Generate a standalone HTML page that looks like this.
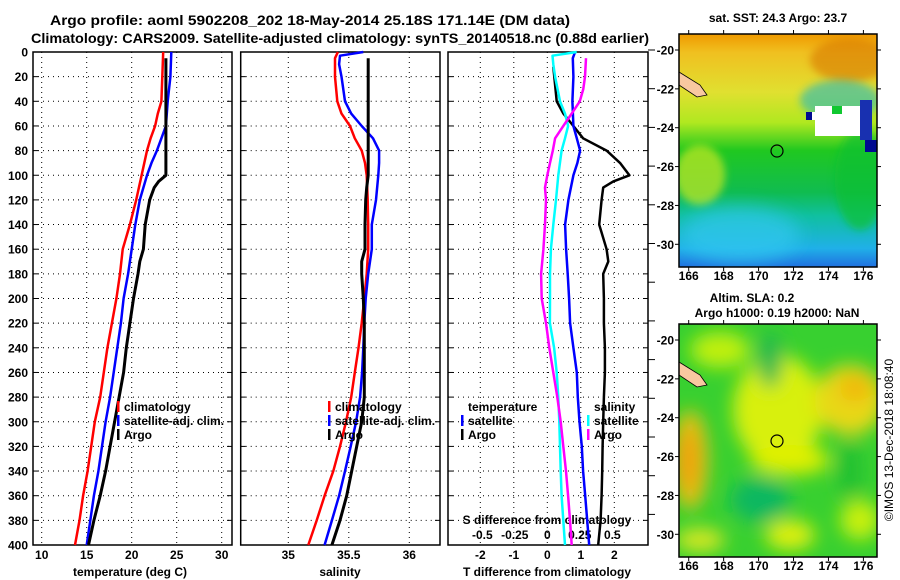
<!DOCTYPE html>
<html><head><meta charset="utf-8"><style>
body{margin:0;background:#fff;}
svg{display:block;font-family:"Liberation Sans",sans-serif;font-weight:bold;}
</style></head><body>
<svg id="fig" width="900" height="580" viewBox="0 0 900 580" xmlns="http://www.w3.org/2000/svg">
<defs>
<filter id="blur6" x="-50%" y="-50%" width="200%" height="200%"><feGaussianBlur stdDeviation="9"/></filter>
<filter id="blur3" x="-50%" y="-50%" width="200%" height="200%"><feGaussianBlur stdDeviation="4"/></filter>
<clipPath id="clipTop"><rect x="679" y="34" width="198" height="233"/></clipPath>
<clipPath id="clipBot"><rect x="679" y="324" width="198" height="233"/></clipPath>
<linearGradient id="sstGrad" x1="0" y1="0" x2="0" y2="1">
<stop offset="0" stop-color="#f09a00"/><stop offset="0.08" stop-color="#f0c020"/>
<stop offset="0.25" stop-color="#e0e030"/><stop offset="0.38" stop-color="#b0e820"/>
<stop offset="0.5" stop-color="#20c820"/><stop offset="0.68" stop-color="#10bc50"/>
<stop offset="0.78" stop-color="#10c0a0"/><stop offset="0.92" stop-color="#20b0e8"/>
<stop offset="1" stop-color="#2070e0"/></linearGradient>
</defs>
<g font-size="14" text-anchor="middle">
<text x="310" y="25" textLength="520" lengthAdjust="spacingAndGlyphs">Argo profile: aoml 5902208_202 18-May-2014 25.18S 171.14E (DM data)</text>
<text x="340" y="43" textLength="618" lengthAdjust="spacingAndGlyphs">Climatology: CARS2009. Satellite-adjusted climatology: synTS_20140518.nc (0.88d earlier)</text>
</g>
<g id="plots"></g>
<g id="maps">
<g clip-path="url(#clipTop)">
<rect x="679" y="34" width="198" height="233" fill="url(#sstGrad)"/>
<ellipse cx="850" cy="60" rx="40" ry="22" fill="#d87800" opacity="0.6" filter="url(#blur3)"/>
<ellipse cx="700" cy="175" rx="25" ry="30" fill="#c8e820" opacity="0.7" filter="url(#blur3)"/>
<ellipse cx="740" cy="235" rx="60" ry="28" fill="#30c8f0" opacity="0.7" filter="url(#blur6)"/>
<ellipse cx="860" cy="180" rx="25" ry="50" fill="#10c030" opacity="0.7" filter="url(#blur3)"/>
<ellipse cx="840" cy="100" rx="40" ry="20" fill="#20b8c0" opacity="0.6" filter="url(#blur3)"/>
<rect x="815" y="106" width="50" height="30" fill="#fff"/>
<rect x="810" y="112" width="12" height="8" fill="#fff"/>
<rect x="860" y="100" width="12" height="40" fill="#1830b0"/>
<rect x="865" y="140" width="12" height="12" fill="#000a90"/>
<rect x="806" y="112" width="6" height="8" fill="#000a90"/>
<rect x="832" y="106" width="10" height="8" fill="#10c830"/>
<path d="M679 72 L700 85 L707 95 L697 97 L679 85 Z" fill="#f8c8a0" stroke="#000" stroke-width="0.8"/>
<circle cx="777" cy="151" r="6" fill="none" stroke="#000" stroke-width="1.2"/>
</g>
<rect x="679" y="34" width="198" height="233" fill="none" stroke="#000" stroke-width="1.5"/>
<g clip-path="url(#clipBot)">
<rect x="679" y="324" width="198" height="233" fill="#38d030"/>
<g filter="url(#blur6)">
<ellipse cx="778" cy="410" rx="45" ry="55" fill="#d8f010"/>
<ellipse cx="790" cy="460" rx="40" ry="15" fill="#e0f000"/>
<ellipse cx="850" cy="400" rx="35" ry="35" fill="#e8d818"/>
<ellipse cx="855" cy="388" rx="16" ry="14" fill="#f0b810"/>
<ellipse cx="690" cy="460" rx="18" ry="50" fill="#e8c018"/>
<ellipse cx="688" cy="460" rx="10" ry="30" fill="#f0a010"/>
<ellipse cx="720" cy="350" rx="30" ry="18" fill="#c0f010"/>
<ellipse cx="790" cy="535" rx="25" ry="15" fill="#e0f010"/>
<ellipse cx="860" cy="520" rx="20" ry="20" fill="#c8f010"/>
<ellipse cx="700" cy="540" rx="25" ry="12" fill="#d8e820"/>
<ellipse cx="760" cy="500" rx="30" ry="22" fill="#10b860"/>
<ellipse cx="770" cy="360" rx="12" ry="28" fill="#20b850"/>
<ellipse cx="850" cy="470" rx="12" ry="30" fill="#20c030"/>
</g>
<path d="M679 362 L700 375 L707 385 L697 387 L679 375 Z" fill="#f8c8a0" stroke="#000" stroke-width="0.8"/>
<circle cx="777" cy="441" r="6" fill="none" stroke="#000" stroke-width="1.2"/>
</g>
<rect x="679" y="324" width="198" height="233" fill="none" stroke="#000" stroke-width="1.5"/>
<text x="778" y="22" font-size="12" text-anchor="middle">sat. SST: 24.3 Argo: 23.7</text>
<text x="752" y="302" font-size="12" text-anchor="middle">Altim. SLA: 0.2</text>
<text x="777" y="317" font-size="12" text-anchor="middle">Argo h1000: 0.19 h2000: NaN</text>
<text transform="translate(893,440) rotate(-90)" font-size="12" font-weight="normal" text-anchor="middle">©IMOS 13-Dec-2018 18:08:40</text>
<g id="mapaxes"></g>
</g>
</svg>
<script>
// depth levels (m)
const depthsT = [0,20,40,50,60,70,80,100,120,140,160,180,200,220,240,260,280,300,320,340,360,380,400];
const tempClim = [23.5,23.4,23.3,22.9,22.6,22.1,21.7,21.1,20.5,19.8,19.0,18.7,18.3,17.8,17.3,16.9,16.5,15.9,15.5,15.1,14.6,14.2,13.7];
const depthsB = [0,20,40,60,70,80,90,100,120,140,160,180,200,220,240,260,280,300,320,340,360,380,400];
const tempSat = [24.4,24.3,24.0,23.8,23.3,22.8,22.2,21.7,20.9,20.4,20.0,19.6,19.1,18.8,18.4,18.0,17.6,17.1,16.7,16.3,15.8,15.4,15.0];
const depthsArgo = [5,100,105,110,120,140,160,170,180,200,220,240,260,280,300,320,340,360,380,400];
const tempArgo = [23.8,23.8,23.0,22.5,22.0,21.5,21.3,20.9,20.7,20.2,19.8,19.4,19.1,18.6,18.1,17.6,17.1,16.5,15.8,15.2];
const depthsSC = [0,5,20,40,50,60,70,80,90,100,120,140,160,180,200,220,240,260,280,300,320,340,360,380,400];
const salClim = [35.41,35.386,35.386,35.405,35.44,35.51,35.55,35.607,35.634,35.648,35.656,35.66,35.66,35.648,35.628,35.607,35.58,35.55,35.52,35.477,35.427,35.372,35.30,35.235,35.165];
const depthsSS = [0,3,10,20,40,50,60,70,80,90,100,120,140,160,180,200,220,240,260,280,300,320,340,360,380,400];
const salSat = [35.62,35.427,35.42,35.44,35.469,35.52,35.607,35.70,35.75,35.75,35.744,35.725,35.69,35.69,35.66,35.64,35.628,35.62,35.61,35.593,35.56,35.516,35.469,35.42,35.36,35.30];
const depthsSA = [5,100,110,120,140,160,170,180,200,220,240,260,280,300,320,340,360,380,400];
const salArgo = [35.66,35.66,35.648,35.64,35.634,35.634,35.607,35.607,35.62,35.628,35.628,35.628,35.628,35.607,35.565,35.524,35.483,35.427,35.36];
const depthsTDA = [12,40,50,60,70,80,90,100,105,110,120,140,160,170,180,200,220,240,260,280,300,320,340,360,380,400];
const tDiffArgo = [0.18,0.28,0.48,0.78,1.07,1.77,2.17,2.45,1.97,1.67,1.62,1.55,1.77,1.82,1.67,1.69,1.69,1.72,1.72,1.69,1.67,1.65,1.64,1.62,1.59,1.52];
const depthsTDS = [0,5,20,40,60,70,80,90,100,120,140,160,180,200,220,240,260,280,300,320,340,360,380,400];
const tDiffSat = [0.83,0.76,0.78,0.75,0.78,0.88,0.98,0.9,0.78,0.63,0.53,0.56,0.61,0.65,0.68,0.78,0.88,0.91,0.96,1.03,1.07,1.13,1.19,1.25];
const depthsSDS = [0,3,10,20,40,50,60,70,80,100,120,140,160,180,200,220,240,260,280,300,320,340,360,380,400];
const sDiffSat = [0.226,0.04,0.046,0.06,0.098,0.136,0.16,0.136,0.11,0.085,0.067,0.046,0.028,0.021,0.021,0.02,0.052,0.072,0.085,0.092,0.098,0.103,0.11,0.123,0.136];
const depthsSDA = [5,20,30,40,50,60,70,80,90,100,110,120,140,160,180,200,220,240,260,280,300,320,340,360,380,400];
const sDiffArgo = [0.298,0.29,0.277,0.25,0.188,0.123,0.06,0.042,0.021,0,-0.018,-0.01,-0.018,-0.03,-0.048,-0.043,-0.01,0.015,0.046,0.077,0.103,0.123,0.144,0.16,0.175,0.188];
const depthTicks = [0,20,40,60,80,100,120,140,160,180,200,220,240,260,280,300,320,340,360,380,400];
const tempTicks = [10,15,20,25,30];
const salTicks = [35,35.5,36];
const tDiffTicks = [-2,-1,0,1,2];
const sDiffTickLabels = ["-0.5","-0.25","0","0.25","0.5"];
const sDiffTicks = [-0.5,-0.25,0,0.25,0.5];
const lonTicks = [166,168,170,172,174,176];
const latTicks = [-20,-22,-24,-26,-28,-30];

const NS = "http://www.w3.org/2000/svg";
const yS = d => 52 + d * 493 / 400;
const xT = t => 41.7 + 9 * (t - 10);
const xS = s => 288.3 + 121 * (s - 35);
const xTD = d => 547.3 + 33.5 * d;
const xSD = d => 547.3 + 130 * d;
const plots = document.getElementById('plots');
function mk(tag, attrs, parent) {
  const e = document.createElementNS(NS, tag);
  for (const k in attrs) e.setAttribute(k, attrs[k]);
  (parent || plots).appendChild(e);
  return e;
}
function line(xs, ds, xf, color, w, name) {
  const pts = xs.map((v, i) => xf(v).toFixed(1) + ',' + yS(ds[i]).toFixed(1)).join(' ');
  const p = mk('polyline', {points: pts, fill: 'none', stroke: color, 'stroke-width': w, 'stroke-linejoin': 'round'});
  
  
}
function panel(x0, x1, vticks, xf, name) {
  const g = mk('g', {});
  
  
  depthTicks.forEach(d => {
    if (d > 0 && d < 400) mk('line', {x1: x0, x2: x1, y1: yS(d), y2: yS(d), stroke: '#000', 'stroke-width': 1, 'stroke-dasharray': '1,4'}, g);
    mk('line', {x1: x0, x2: x0 + 5, y1: yS(d), y2: yS(d), stroke: '#000'}, g);
    mk('line', {x1: x1 - 5, x2: x1, y1: yS(d), y2: yS(d), stroke: '#000'}, g);
  });
  vticks.forEach(v => {
    const x = xf(v);
    mk('line', {x1: x, x2: x, y1: 52, y2: 545, stroke: '#000', 'stroke-width': 1, 'stroke-dasharray': '1,4'}, g);
  });
  mk('rect', {x: x0, y: 52, width: x1 - x0, height: 493, fill: 'none', stroke: '#000', 'stroke-width': 1.5}, g);
}
panel(33, 232, tempTicks, xT, 'temperature-panel');
panel(240.7, 440, salTicks, xS, 'salinity-panel');
panel(448, 648, tDiffTicks, xTD, 'difference-panel');
for (let i = 0; i < 13; i++) {
  const t = mk('line', {x1: 648, x2: 655, y1: 50 + 38.7 * i, y2: 50 + 38.7 * i, stroke: '#000'});
  
  
}
depthTicks.forEach(d => {
  const t = mk('text', {x: 28, y: yS(d) + 4.5, 'font-size': 12, 'text-anchor': 'end'});
  t.textContent = d;
  
  
});
function xlabels(ticks, xf, y, labels, name) {
  ticks.forEach((v, i) => {
    const t = mk('text', {x: xf(v), y: y, 'font-size': 12, 'text-anchor': 'middle'});
    t.textContent = labels ? labels[i] : v;
    
    
  });
}
xlabels(tempTicks, xT, 559, null, 'temperature-tick-label');
xlabels(salTicks, xS, 559, null, 'salinity-tick-label');
xlabels(tDiffTicks, xTD, 559, null, 'tdiff-tick-label');
xlabels(sDiffTicks, xSD, 539, sDiffTickLabels, 'sdiff-tick-label');
function txt(x, y, s, name, anchor, size) {
  const t = mk('text', {x: x, y: y, 'font-size': size || 12, 'text-anchor': anchor || 'start'});
  t.textContent = s;
  
  
}
txt(130, 576, 'temperature (deg C)', 'temperature-axis-title', 'middle');
txt(340, 576, 'salinity', 'salinity-axis-title', 'middle');
txt(547, 576, 'T difference from climatology', 'tdiff-axis-title', 'middle');
txt(547, 524, 'S difference from climatology', 'sdiff-axis-title', 'middle');
line(tempClim, depthsT, xT, '#ff0000', 2.5, 'temp-climatology-line');
line(tempSat, depthsB, xT, '#0000ff', 2.5, 'temp-satellite-line');
line(tempArgo, depthsArgo, xT, '#000', 3, 'temp-argo-line');
line(salClim, depthsSC, xS, '#ff0000', 2.5, 'sal-climatology-line');
line(salSat, depthsSS, xS, '#0000ff', 2.5, 'sal-satellite-line');
line(salArgo, depthsSA, xS, '#000', 3, 'sal-argo-line');
line(tDiffArgo, depthsTDA, xTD, '#000', 2.5, 'tdiff-argo-line');
line(tDiffSat, depthsTDS, xTD, '#0000ff', 2.5, 'tdiff-satellite-line');
line(sDiffSat, depthsSDS, xSD, '#00ffff', 2.5, 'sdiff-satellite-line');
line(sDiffArgo, depthsSDA, xSD, '#ff00ff', 2.5, 'sdiff-argo-line');
function leg(x, y, color, label, name) {
  const r = mk('rect', {x: x, y: y - 10, width: 2.5, height: 11, fill: color});
  
  
  txt(x + 7, y, label, name);
}
leg(117, 411, '#ff0000', 'climatology', 'legend-climatology');
leg(117, 425, '#0000ff', 'satellite-adj. clim.', 'legend-satellite');
leg(117, 439, '#000', 'Argo', 'legend-argo');
leg(328, 411, '#ff0000', 'climatology', 'legend2-climatology');
leg(328, 425, '#0000ff', 'satellite-adj. clim.', 'legend2-satellite');
leg(328, 439, '#000', 'Argo', 'legend2-argo');
txt(468, 411, 'temperature', 'legend3-temperature-header');
leg(461, 425, '#0000ff', 'satellite', 'legend3-t-satellite');
leg(461, 439, '#000', 'Argo', 'legend3-t-argo');
txt(594, 411, 'salinity', 'legend3-salinity-header');
leg(587, 425, '#00ffff', 'satellite', 'legend3-s-satellite');
leg(587, 439, '#ff00ff', 'Argo', 'legend3-s-argo');
const ma = document.getElementById('mapaxes');
const xLon = l => 688.7 + (l - 166) * 17.47;
[[34, 267, 50], [324, 557, 340]].forEach(([top, bot, y20], mi) => {
  const yLat = la => y20 + (-20 - la) * 19.43;
  lonTicks.forEach(l => {
    mk('line', {x1: xLon(l), x2: xLon(l), y1: top - 4, y2: top, stroke: '#000'}, ma);
    mk('line', {x1: xLon(l), x2: xLon(l), y1: bot, y2: bot + 4, stroke: '#000'}, ma);
    const t = mk('text', {x: xLon(l), y: bot + 13, 'font-size': 12, 'text-anchor': 'middle'}, ma);
    t.textContent = l;
    
    
  });
  latTicks.forEach(la => {
    mk('line', {x1: 675, x2: 679, y1: yLat(la), y2: yLat(la), stroke: '#000'}, ma);
    mk('line', {x1: 877, x2: 881, y1: yLat(la), y2: yLat(la), stroke: '#000'}, ma);
    const t = mk('text', {x: 674, y: yLat(la) + 4.5, 'font-size': 12, 'text-anchor': 'end'}, ma);
    t.textContent = la;
    
    
  });
});
</script>
</body></html>
